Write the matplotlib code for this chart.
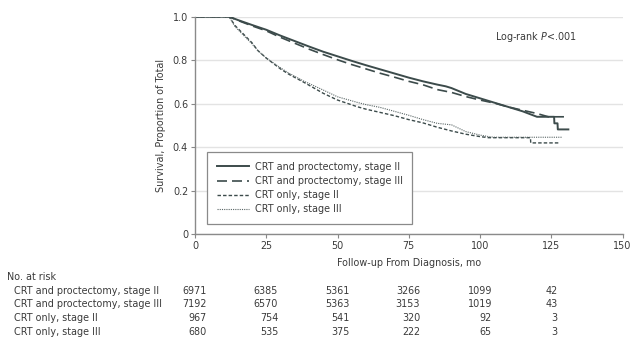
import matplotlib
matplotlib.use("Agg")
import matplotlib.pyplot as plt
import matplotlib.transforms as mtransforms

FONT = ['Liberation Sans Narrow', 'DejaVu Sans']
plt.rcParams['font.family'] = FONT
plt.rcParams['mathtext.fontset'] = 'custom'
plt.rcParams['mathtext.rm'] = 'Liberation Sans Narrow'
plt.rcParams['mathtext.it'] = 'Liberation Sans Narrow:italic'

# ---- data ----
series_names = ["CRT and proctectomy, stage II", "CRT and proctectomy, stage III",
                "CRT only, stage II", "CRT only, stage III"]

s1_t = [0, 12, 15, 20, 25, 30, 35, 40, 45, 50, 55, 60, 65, 70, 75, 80, 85, 88, 90, 95,
        100, 105, 110, 115, 120, 126, 126.1, 127.2, 127.3, 131]
s1_v = [1.0, 1.0, 0.985, 0.962, 0.94, 0.913, 0.888, 0.863, 0.839, 0.818, 0.797, 0.777,
        0.758, 0.739, 0.72, 0.703, 0.688, 0.68, 0.672, 0.645, 0.625, 0.605, 0.585,
        0.565, 0.54, 0.54, 0.51, 0.51, 0.482, 0.482]

s2_t = [0, 12, 15, 20, 25, 30, 35, 40, 45, 50, 55, 60, 65, 70, 75, 80, 85, 90, 95,
        100, 105, 110, 115, 120, 124, 130.5]
s2_v = [1.0, 1.0, 0.983, 0.958, 0.935, 0.905, 0.878, 0.851, 0.826, 0.802, 0.78, 0.76,
        0.74, 0.722, 0.703, 0.687, 0.665, 0.652, 0.633, 0.617, 0.603, 0.585, 0.57,
        0.555, 0.54, 0.54]

s3_t = [0, 12, 14, 17, 20, 22, 25, 30, 33, 38, 45, 50, 57, 60, 65, 70, 75, 80, 85, 90,
        95, 100, 103, 117.7, 117.8, 127.8]
s3_v = [1.0, 1.0, 0.96, 0.92, 0.88, 0.845, 0.81, 0.76, 0.735, 0.7, 0.648, 0.617, 0.586,
        0.575, 0.56, 0.545, 0.527, 0.512, 0.492, 0.475, 0.46, 0.449, 0.444, 0.444,
        0.42, 0.42]

s4_t = [0, 12, 14, 17, 20, 22, 25, 30, 33, 38, 45, 50, 57, 60, 65, 70, 75, 80, 85, 90,
        95, 100, 103, 105, 129]
s4_v = [1.0, 1.0, 0.955, 0.915, 0.875, 0.845, 0.81, 0.765, 0.74, 0.705, 0.663, 0.632,
        0.606, 0.596, 0.583, 0.565, 0.547, 0.527, 0.51, 0.503, 0.472, 0.456, 0.449,
        0.446, 0.446]

x_ticks = [0, 25, 50, 75, 100, 125, 150]
y_ticks = [0, 0.2, 0.4, 0.6, 0.8, 1.0]
y_ticklabels = ["0", "0.2", "0.4", "0.6", "0.8", "1.0"]

risk_times = [0, 25, 50, 75, 100, 125]
risk_rows = [
    [6971, 6385, 5361, 3266, 1099, 42],
    [7192, 6570, 5363, 3153, 1019, 43],
    [967, 754, 541, 320, 92, 3],
    [680, 535, 375, 222, 65, 3],
]

# ---- figure ----
fig = plt.figure(figsize=(6.4, 3.4), dpi=100)
ax = fig.add_axes([195/640, 1-234.3/340, 427.5/640, 217.6/340])

line_col = '#3c4b4b'
txt_col = '#3a3a3a'
fs = 6.9

ax.plot(s1_t, s1_v, color=line_col, lw=1.4, ls='-', label=series_names[0])
ax.plot(s2_t, s2_v, color=line_col, lw=1.2, ls=(0, (6, 3)), label=series_names[1])
ax.plot(s3_t, s3_v, color=line_col, lw=1.0, ls=(0, (2.5, 1.5)), label=series_names[2])
ax.plot(s4_t, s4_v, color='#5a6666', lw=0.8, ls=(0, (1, 1)), label=series_names[3])

ax.set_xlim(0, 150)
ax.set_ylim(0, 1.0)
ax.set_xticks(x_ticks)
ax.set_yticks(y_ticks)
ax.set_yticklabels(y_ticklabels)
ax.tick_params(axis='both', labelsize=fs, colors='#888888', labelcolor=txt_col,
               length=3, width=0.8, pad=2)
for s in ['top', 'right']:
    ax.spines[s].set_visible(False)
for s in ['left', 'bottom']:
    ax.spines[s].set_color('#8a8a8a')
    ax.spines[s].set_linewidth(1.0)
ax.yaxis.grid(True, color='#e3e3e3', lw=1.0)
ax.set_axisbelow(True)

ax.set_xlabel("Follow-up From Diagnosis, mo", fontsize=fs, color=txt_col, labelpad=5)
ax.set_ylabel("Survival, Proportion of Total", fontsize=fs, color=txt_col, labelpad=5)

ax.text(105.4, 0.907, r'Log-rank $\mathit{P}$<.001', fontsize=fs, color=txt_col,
        va='center', ha='left')

leg = ax.legend(loc='lower left', bbox_to_anchor=(0.028, 0.047), fontsize=fs,
                frameon=True, fancybox=False, edgecolor='#8a8a8a', framealpha=1,
                handlelength=3.4, handletextpad=0.6, labelspacing=0.45,
                borderpad=1.0, borderaxespad=0)
leg.get_frame().set_linewidth(0.9)
for t in leg.get_texts():
    t.set_color(txt_col)

# ---- number at risk table ----
trans = mtransforms.blended_transform_factory(ax.transData, fig.transFigure)
fig.text(7/640, 1-277/340, "No. at risk", fontsize=fs, color=txt_col, va='center')
row_y = [291, 304, 318, 332]
offsets = [4.2, 4.2, 4.2, 4.0, 4.2, 2.2]
for name, vals, py in zip(series_names, risk_rows, row_y):
    fig.text(14/640, 1-py/340, name, fontsize=fs, color=txt_col, va='center')
    for t, v, off in zip(risk_times, vals, offsets):
        ax.text(t + off, 1-py/340, str(v), transform=trans, fontsize=fs,
                color=txt_col, va='center', ha='right', clip_on=False)

fig.savefig("out.png", dpi=100)
